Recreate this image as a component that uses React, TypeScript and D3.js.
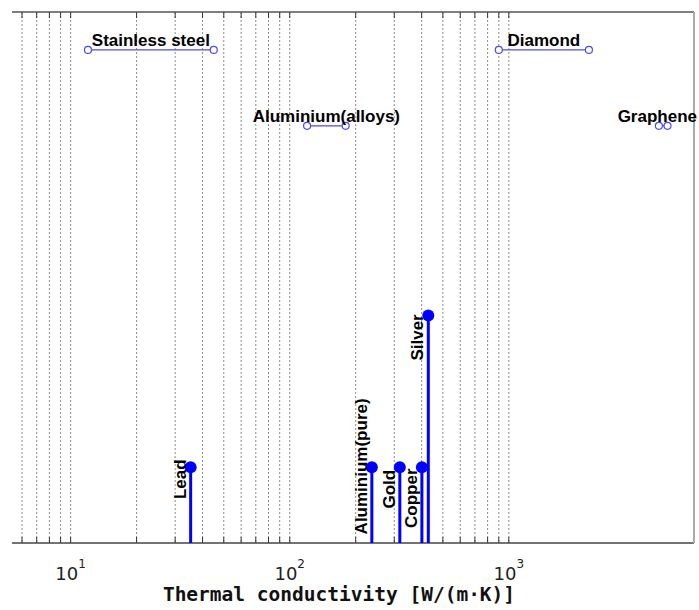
// Thermal conductivity of a few materials on a log axis: ranges drawn as
// open-circle intervals up top, single values as stems at the bottom.
import { useEffect, useRef } from "react";
import * as d3 from "d3";

const W = 699;
const H = 610;

// ranges (low..high), drawn as a thin line between two open circles
const rangeNames = ["Stainless steel", "Aluminium(alloys)", "Diamond", "Graphene"];
const rangeLow = [12, 120, 900, 4840];
const rangeHigh = [45, 180, 2320, 5300];
const rangeLevel = [6.5, 5.5, 6.5, 5.5];

// single values, drawn as stems
const stemNames = ["Lead", "Aluminium(pure)", "Gold", "Copper", "Silver"];
const stemValues = [35.3, 237, 318, 401, 429];
const stemLevel = [1, 1, 1, 1, 3];
// where each rotated stem label is centred, in y-units
const stemLabelAt = [0.84, 1.01, 0.71, 0.59, 2.71];

const decadeTicks = [10, 100, 1000];
const decadeExp = ["1", "2", "3"];
const xTitle = "Thermal conductivity [W/(m·K)]";

export default function App() {
  const ref = useRef<SVGSVGElement>(null);

  useEffect(() => {
    const node = ref.current;
    if (!node) return;
    const svg = d3.select(node);
    svg.selectAll("*").remove();

    const margin = { top: 12, right: 5, bottom: 67, left: 12 };
    const innerW = W - margin.left - margin.right;
    const innerH = H - margin.top - margin.bottom;

    const x = d3.scaleLog().domain([5.4, 7000]).range([0, innerW]);
    const y = d3.scaleLinear().domain([0, 7]).range([innerH, 0]);

    const g = svg.append("g").attr("transform", `translate(${margin.left},${margin.top})`);

    // minor grid + ticks stop at 10^3
    const grid = x.ticks().filter((t) => t <= 1000);
    g.append("g")
      .selectAll("line")
      .data(grid)
      .join("line")
      .attr("x1", (d) => x(d))
      .attr("x2", (d) => x(d))
      .attr("y1", 0)
      .attr("y2", innerH)
      .attr("stroke", "#8a8a8a")
      .attr("stroke-width", 1)
      .attr("stroke-dasharray", "2 2");

    const tickLen = 6;
    g.append("g")
      .selectAll("line")
      .data(grid)
      .join("line")
      .attr("x1", (d) => x(d))
      .attr("x2", (d) => x(d))
      .attr("y1", 0)
      .attr("y2", tickLen)
      .attr("stroke", "#333");
    g.append("g")
      .selectAll("line")
      .data(grid)
      .join("line")
      .attr("x1", (d) => x(d))
      .attr("x2", (d) => x(d))
      .attr("y1", innerH)
      .attr("y2", innerH - tickLen)
      .attr("stroke", "#333");

    // frame: top, bottom, right
    g.append("line").attr("x1", 0).attr("x2", innerW).attr("y1", 0).attr("y2", 0)
      .attr("stroke", "#555").attr("stroke-width", 1.5);
    g.append("line").attr("x1", 0).attr("x2", innerW).attr("y1", innerH).attr("y2", innerH)
      .attr("stroke", "#444").attr("stroke-width", 1.5);
    g.append("line").attr("x1", innerW).attr("x2", innerW).attr("y1", 0).attr("y2", innerH)
      .attr("stroke", "#aaa").attr("stroke-width", 2);

    // decade labels 10^n
    const lab = g.append("g")
      .selectAll("text")
      .data(decadeTicks)
      .join("text")
      .attr("x", (d) => x(d))
      .attr("y", innerH + 37)
      .attr("text-anchor", "middle")
      .attr("font-family", "'DejaVu Sans', sans-serif")
      .attr("font-size", 18)
      .attr("fill", "#222");
    lab.append("tspan").text("10");
    lab.append("tspan")
      .attr("font-size", 12)
      .attr("dy", -12)
      .text((_, i) => decadeExp[i]);

    svg.append("text")
      .attr("x", 339)
      .attr("y", 601)
      .attr("text-anchor", "middle")
      .attr("font-family", "'DejaVu Sans Mono', monospace")
      .attr("font-weight", "bold")
      .attr("font-size", 19.5)
      .attr("fill", "#111")
      .text(xTitle);

    const labelFont = "'Liberation Sans', Arial, sans-serif";
    const rangeColor = "#4b4bf0";

    // ranges
    const rg = g.append("g")
      .selectAll("g")
      .data(rangeNames)
      .join("g");
    rg.append("line")
      .attr("x1", (_, i) => x(rangeLow[i]))
      .attr("x2", (_, i) => x(rangeHigh[i]))
      .attr("y1", (_, i) => y(rangeLevel[i]))
      .attr("y2", (_, i) => y(rangeLevel[i]))
      .attr("stroke", rangeColor)
      .attr("stroke-width", 1.3);
    rg.selectAll("circle")
      .data((_, i) => [rangeLow[i], rangeHigh[i]].map((v) => ({ v, lvl: rangeLevel[i] })))
      .join("circle")
      .attr("cx", (d) => x(d.v))
      .attr("cy", (d) => y(d.lvl))
      .attr("r", 3.5)
      .attr("fill", "white")
      .attr("stroke", rangeColor)
      .attr("stroke-width", 1.2);
    rg.append("text")
      .attr("x", (_, i) => x(Math.sqrt(rangeLow[i] * rangeHigh[i])))
      .attr("y", (_, i) => y(rangeLevel[i]) - 4)
      .attr("text-anchor", "middle")
      .attr("font-family", labelFont)
      .attr("font-weight", "bold")
      .attr("font-size", 17)
      .attr("fill", "#000")
      .text((d) => d)
      .each(function () {
        // keep labels inside the frame on the right
        const t = this as SVGTextElement;
        const half = t.getComputedTextLength() / 2;
        const cx = +t.getAttribute("x")!;
        const maxRight = W - margin.left - 2;
        if (cx + half > maxRight) t.setAttribute("x", String(maxRight - half));
      });

    // stems
    const sg = g.append("g")
      .selectAll("g")
      .data(stemNames)
      .join("g");
    sg.append("line")
      .attr("x1", (_, i) => x(stemValues[i]))
      .attr("x2", (_, i) => x(stemValues[i]))
      .attr("y1", innerH)
      .attr("y2", (_, i) => y(stemLevel[i]))
      .attr("stroke", "#0000ff")
      .attr("stroke-width", 3);
    sg.append("circle")
      .attr("cx", (_, i) => x(stemValues[i]))
      .attr("cy", (_, i) => y(stemLevel[i]))
      .attr("r", 6)
      .attr("fill", "#0000ff");
    sg.append("text")
      .attr("transform", (_, i) =>
        `translate(${x(stemValues[i]) - 5},${y(stemLabelAt[i])}) rotate(-90)`)
      .attr("text-anchor", "middle")
      .attr("font-family", labelFont)
      .attr("font-weight", "bold")
      .attr("font-size", 17)
      .attr("fill", "#000")
      .text((d) => d);
  }, []);

  return (
    <svg
      ref={ref}
      width={W}
      height={H}
      viewBox={`0 0 ${W} ${H}`}
      style={{ position: "absolute", left: 0, top: 0, background: "white" }}
    />
  );
}
